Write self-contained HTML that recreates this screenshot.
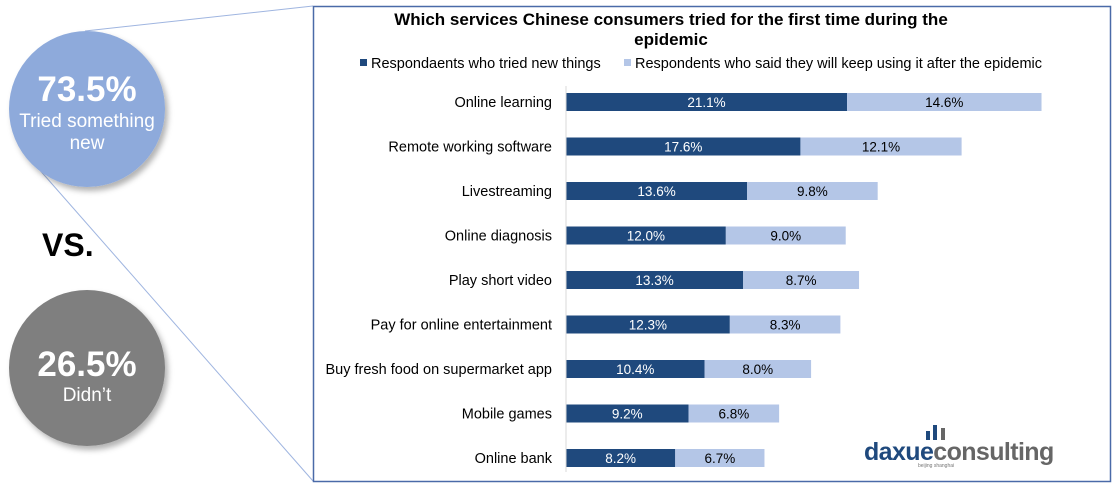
<!DOCTYPE html>
<html><head><meta charset="utf-8"><style>
body{margin:0;width:1115px;height:492px;background:#fff;overflow:hidden;font-family:"Liberation Sans",Arial,sans-serif}
</style></head><body>
<svg width="1115" height="492" xmlns="http://www.w3.org/2000/svg" font-family="Liberation Sans, Arial, sans-serif">
<defs><filter id="sh" x="-20%" y="-20%" width="150%" height="150%"><feDropShadow dx="3" dy="4" stdDeviation="3" flood-opacity="0.3"/></filter></defs>
<line x1="85" y1="31" x2="313" y2="6" stroke="#9fb5e0" stroke-width="1"/>
<line x1="38" y1="168" x2="313" y2="481" stroke="#9fb5e0" stroke-width="1"/>
<g>
<circle cx="87" cy="109" r="78" fill="#8eaadb" filter="url(#sh)"/>
<text x="87" y="101" text-anchor="middle" font-size="35" font-weight="bold" fill="#fff">73.5%</text>
<text x="87" y="127" text-anchor="middle" font-size="19" fill="#fff">Tried something</text>
<text x="87" y="149" text-anchor="middle" font-size="19" fill="#fff">new</text>
</g>
<text x="42" y="256" font-size="32" font-weight="bold" fill="#000">VS.</text>
<g>
<circle cx="87" cy="368" r="78" fill="#7f7f7f" filter="url(#sh)"/>
<text x="87" y="376" text-anchor="middle" font-size="35" font-weight="bold" fill="#fff">26.5%</text>
<text x="87" y="401" text-anchor="middle" font-size="19" fill="#fff">Didn’t</text>
</g>
<rect x="313.5" y="6.5" width="797" height="475" fill="#fff" stroke="#4a6aa8" stroke-width="1.5"/>
<text x="671" y="25" text-anchor="middle" font-size="17" font-weight="bold">Which services Chinese consumers tried for the first time during the</text>
<text x="671" y="45" text-anchor="middle" font-size="17" font-weight="bold">epidemic</text>
<g>
<rect x="360" y="59" width="7" height="7" fill="#1f497d"/>
<text x="371" y="68" font-size="14.5">Respondaents who tried new things</text>
<rect x="624" y="59" width="7" height="7" fill="#b4c6e7"/>
<text x="635" y="68" font-size="14.5">Respondents who said they will keep using it after the epidemic</text>
</g>
<g id="bars"></g>
<g>
<rect x="926" y="431" width="4" height="9" fill="#1f497d"/><rect x="933" y="425" width="4" height="15" fill="#1f497d"/><rect x="941" y="428" width="4" height="12" fill="#666"/>
<text x="864" y="460" font-size="25" font-weight="bold" fill="#1f497d" letter-spacing="-0.6">daxue<tspan fill="#666">consulting</tspan></text>
<text x="918" y="467" font-size="5" fill="#777">beijing shanghai</text>
</g>
</svg>
<script>
const categories=["Online learning","Remote working software","Livestreaming","Online diagnosis","Play short video","Pay for online entertainment","Buy fresh food on supermarket app","Mobile games","Online bank"];
const triedValues=[21.1,17.6,13.6,12.0,13.3,12.3,10.4,9.2,8.2];
const keepValues=[14.6,12.1,9.8,9.0,8.7,8.3,8.0,6.8,6.7];
const NS="http://www.w3.org/2000/svg";
const g=document.getElementById('bars');
const x0=566,ppu=13.32;
const xs=v=>v*ppu;
const ys=i=>102+i*44.5;
function mk(t,a){const e=document.createElementNS(NS,t);for(const k in a)e.setAttribute(k,a[k]);g.appendChild(e);return e;}
categories.forEach((c,i)=>{
 const y=ys(i),w1=xs(triedValues[i]),w2=xs(keepValues[i]);
 const l=mk('text',{x:552,y:y+5,'text-anchor':'end','font-size':14.5});l.textContent=c;
 
 
 const b1=mk('rect',{x:x0,y:y-9,width:w1,height:18,fill:'#1f497d'});
 
 
 const b2=mk('rect',{x:x0+w1,y:y-9,width:w2,height:18,fill:'#b4c6e7'});
 
 
 const t1=mk('text',{x:x0+w1/2,y:y+5,'text-anchor':'middle','font-size':13.5,fill:'#fff'});t1.textContent=triedValues[i].toFixed(1)+'%';
 
 
 const t2=mk('text',{x:x0+w1+w2/2,y:y+5,'text-anchor':'middle','font-size':13.5,fill:'#000'});t2.textContent=keepValues[i].toFixed(1)+'%';
 
 
});
const ax=mk('line',{x1:x0,y1:86,x2:x0,y2:472,stroke:'#d9d9d9'});


</script>
</body></html>
